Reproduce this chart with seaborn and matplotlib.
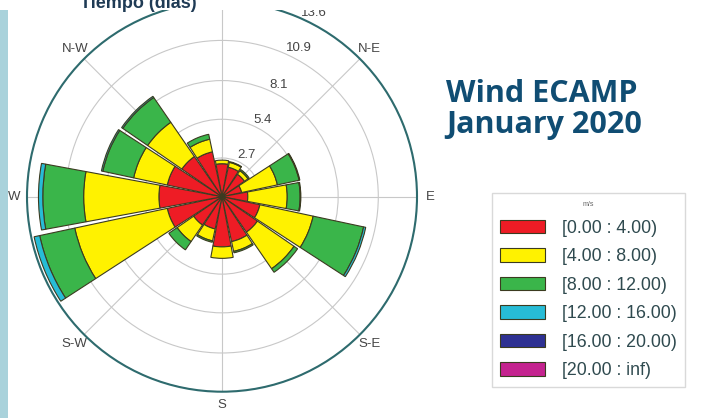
import numpy as np
import matplotlib
matplotlib.use("Agg")
import matplotlib.pyplot as plt
import seaborn as sns
from matplotlib.patches import Rectangle

# wind rose data (frequency %, stacked by speed class)
directions = ['N', 'NNE', 'NE', 'ENE', 'E', 'ESE', 'SE', 'SSE',
              'S', 'SSW', 'SW', 'WSW', 'W', 'WNW', 'NW', 'NNW']
speed_labels = ['[0.00 : 4.00)', '[4.00 : 8.00)', '[8.00 : 12.00)',
                '[12.00 : 16.00)', '[16.00 : 20.00)', '[20.00 : inf)']
speed_0_4 = [2.3, 2.1, 1.9, 1.4, 1.8, 2.7, 3.0, 3.2, 3.5, 2.3, 2.4, 3.9, 4.4, 3.9, 3.4, 3.2]
speed_4_8 = [0.25, 0.35, 0.3, 2.55, 2.75, 3.8, 3.1, 0.7, 0.8, 0.85, 1.4, 6.6, 5.25, 2.4, 2.9, 0.9]
speed_8_12 = [0.0, 0.05, 0.1, 1.55, 0.9, 3.6, 0.3, 0.1, 0.0, 0.1, 0.7, 2.5, 2.85, 2.2, 2.1, 0.35]
speed_12_16 = [0.0, 0.0, 0.0, 0.05, 0.05, 0.15, 0.0, 0.0, 0.0, 0.0, 0.0, 0.4, 0.3, 0.1, 0.1, 0.0]
speed_16_20 = [0.0] * 16
speed_20_inf = [0.0] * 16
radial_ticks = [2.7, 5.4, 8.1, 10.9, 13.6]
compass_labels = ['N', 'N-E', 'E', 'S-E', 'S', 'S-W', 'W', 'N-W']

colors = ['#ee1c25', '#fff200', '#3ab54a', '#27bcd6', '#2e3192', '#c4238f']

sns.set_style("white")
plt.rcParams['font.family'] = ['Liberation Sans', 'DejaVu Sans']

fig = plt.figure(figsize=(7.03, 4.18), dpi=100)
ax = fig.add_axes([27 / 703, 1 - 391.7 / 418, 390 / 703, 390 / 418], projection='polar')
ax.set_theta_zero_location('N')
ax.set_theta_direction(-1)

theta = np.deg2rad(np.arange(16) * 22.5)
width = np.deg2rad(22.5) * 0.93
stack = [speed_0_4, speed_4_8, speed_8_12, speed_12_16, speed_16_20, speed_20_inf]
bottom = np.zeros(16)
for vals, col, lab in zip(stack, colors, speed_labels):
    vals = np.array(vals)
    keep = vals > 0
    ax.bar(theta[keep], vals[keep], width=width, bottom=bottom[keep], color=col,
           edgecolor='#3b3b20', linewidth=0.8, label=lab, zorder=2)
    bottom += vals

ax.set_ylim(0, 13.6)
ax.set_yticks(radial_ticks)
ax.set_yticklabels([str(t) for t in radial_ticks], color='#444444', fontsize=9.5)
ax.set_rlabel_position(24)
ax.set_xticks(np.deg2rad(np.arange(8) * 45))
ax.set_xticklabels(compass_labels, color='#444444', fontsize=9.5)
ax.tick_params(axis='x', pad=-1)
ax.grid(color='#c8c8c8', linewidth=0.8)
ax.spines['polar'].set_color('#2e6b6e')
ax.spines['polar'].set_linewidth(1.5)

# title block
fig.text(446 / 703, 1 - 102 / 418, 'Wind ECAMP', family='Open Sans', fontweight='bold',
         fontsize=22, color='#104d73', ha='left', va='baseline')
fig.text(446 / 703, 1 - 133 / 418, 'January 2020', family='Open Sans', fontweight='bold',
         fontsize=22, color='#104d73', ha='left', va='baseline')

# legend: build handles even for empty speed classes
handles = [Rectangle((0, 0), 1, 1, facecolor=c, edgecolor='#3b3b20', linewidth=0.8)
           for c in colors]
leg = fig.legend(handles, speed_labels, loc='upper left',
                 bbox_to_anchor=(492 / 703, 1 - 193 / 418),
                 title='m/s', title_fontsize=5, fontsize=12.8, frameon=True,
                 fancybox=False, edgecolor='#d0d0d0', handlelength=2.55,
                 handleheight=0.8, labelspacing=0.65, borderaxespad=0,
                 borderpad=0.45, handletextpad=0.95)
for t in leg.get_texts():
    t.set_color('#2f4a4f')
leg.get_title().set_color('#666666')

# cropped-off strip at top and page edge on the left
fig.patches.append(Rectangle((0, 1 - 10 / 418), 1, 10 / 418, transform=fig.transFigure,
                             facecolor='white', edgecolor='none', zorder=5))
fig.patches.append(Rectangle((0, 0), 8 / 703, 1 - 10 / 418, transform=fig.transFigure,
                             facecolor='#a9d2db', edgecolor='none', zorder=5))
fig.text(80 / 703, 1 - 8 / 418, 'Tiempo (días)', fontsize=13, fontweight='bold',
         color='#1f3b55', ha='left', va='baseline', zorder=6)

fig.savefig('out.png', dpi=100)
